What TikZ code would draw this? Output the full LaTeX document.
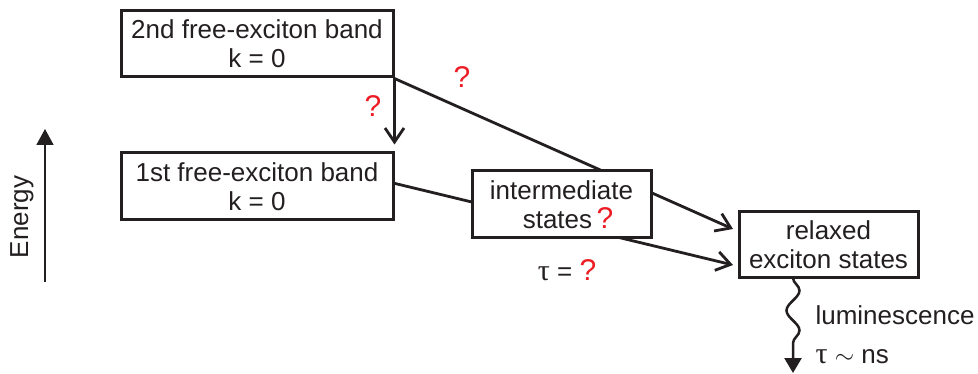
\documentclass[tikz,border=0pt]{standalone}
\usepackage{fontspec}
\setmainfont{Liberation Sans}
\newfontfamily\taufont{Liberation Serif}
\usetikzlibrary{arrows.meta,decorations.pathmorphing}
\definecolor{ink}{RGB}{35,31,32}
\definecolor{qred}{RGB}{237,28,36}
\newcommand{\mytau}{{\taufont\fontsize{30}{29}\selectfont τ}}
\begin{document}
\begin{tikzpicture}[x=1pt,y=-1pt, font=\fontsize{26}{29}\selectfont, color=ink,
 box/.style={draw=ink, line width=3pt, fill=white, inner sep=0pt, align=center, text=ink},
 conn/.style={line width=2.8pt, draw=ink},
 barb/.style={-{Straight Barb[length=14pt,width=19pt,line width=2.8pt]}},
 qm/.style={text=qred, font=\fontsize{30}{34}\selectfont},
 lbl/.style={text=ink}]
\useasboundingbox (0,0) rectangle (978,374);
% boxes
\node[box, minimum width=272pt, minimum height=66pt] (b2) at (257,44) {2nd free-exciton band\\k = 0};
\node[box, minimum width=272pt, minimum height=67pt] (b1) at (257,186.5) {1st free-exciton band\\k = 0};
\node[box, minimum width=179pt, minimum height=66pt] (rx) at (828.5,245) {relaxed\\exciton states};
% connector ends
\coordinate (s1) at (393,183);
\coordinate (e1) at (733,229);
\coordinate (e2) at (733,265);
\coordinate (wend) at (793,373);
\coordinate (ws) at (793,278);
% connectors
\draw[conn, barb, shorten >=7pt] (b2.south east) -- (b1.north east);
\draw[conn, barb] (b2.south east) -- (e1);
\draw[conn, barb] (s1) -- (e2);
% intermediate box on top
\node[box, minimum width=179pt, minimum height=67pt] (im) at (561.5,204.5) {intermediate\\\hspace*{0.5em}states\,{\color{qred}\fontsize{30}{29}\selectfont ?}};
% question marks
\node[qm] (q1) at (373,106) {?};
\node[qm] (q2) at (462,77) {?};
\node[lbl] (tau) at (567,270) {\mytau{} = {\color{qred}\fontsize{30}{29}\selectfont ?}};
% luminescence
\draw[line width=2.5pt, draw=ink, decorate, decoration={snake, amplitude=6.5pt, segment length=40pt, post length=14pt}, -{Triangle[length=15pt,width=17pt]}] (ws) -- (wend);
\node[lbl, anchor=west] (lum) at (812,315) {luminescence};
\node[lbl, anchor=west] (tns) at (812,357) {\mytau{} $\sim$ ns};
% energy axis
\coordinate (eb) at (45,282);
\coordinate (et) at (45,129);
\draw[line width=1.6pt, draw=ink, -{Triangle[length=16pt,width=17pt]}] (eb) -- (et);
\node[lbl, rotate=90] (en) at (22,217) {Energy};
\end{tikzpicture}
\end{document}
